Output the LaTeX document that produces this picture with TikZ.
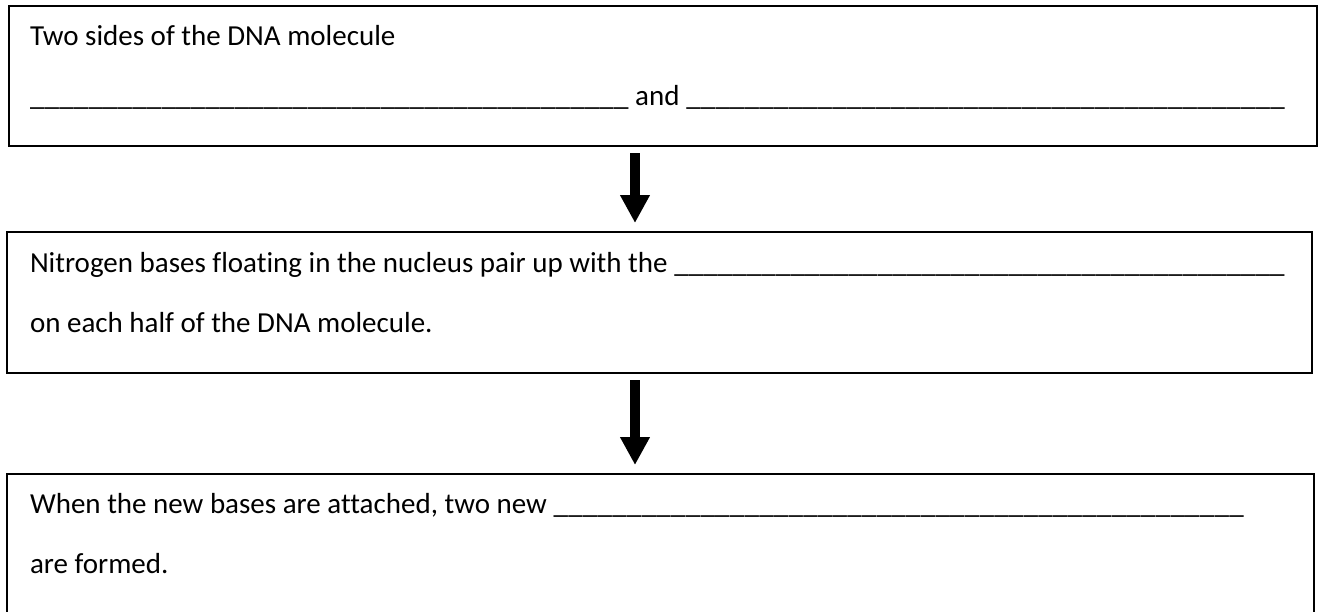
\documentclass[tikz,border=0pt]{standalone}
\usepackage{fontspec}
\setmainfont[Ligatures=NoCommon]{Carlito}
\usetikzlibrary{arrows.meta,calc}
\newcommand\myblank{\xleaders\hbox{\_}\hfill}
\begin{document}
\begin{tikzpicture}[x=1pt,y=-1pt,
  box/.style={draw=black,line width=2pt,rectangle,inner sep=0pt,outer sep=0pt,anchor=north west},
  txt/.style={anchor=base west,inner sep=0pt,outer sep=0pt,font=\fontsize{29}{35}\selectfont},
  blockarrow/.style={line width=10pt,line cap=butt,-{Triangle[width=28pt,length=28pt]},shorten <=7pt,shorten >=9pt}]
\clip (0,0) rectangle (1320,611);
\fill[white] (0,0) rectangle (1320,611);
\node[box,minimum width=1308pt,minimum height=140pt] (b1) at (9,6) {};
\node[box,minimum width=1305pt,minimum height=141pt] (b2) at (7,232) {};
\node[box,minimum width=1307pt,minimum height=200pt] (b3) at (7,474) {};
\node[txt] (t11) at (30,45) {Two sides of the DNA molecule};
\node[txt] (t12) at (30,105) {\hbox to 1255pt{\myblank\ and \myblank}};
\node[txt] (t21) at (30,272) {\hbox to 1255pt{Nitrogen bases floating in the nucleus pair up with the \myblank}};
\node[txt] (t22) at (30,332) {on each half of the DNA molecule.};
\node[txt] (t31) at (30,513) {\hbox to 1214pt{When the new bases are attached, two new \myblank}};
\node[txt] (t32) at (30,573) {are formed.};
\coordinate (ax) at (635,0);
\draw[blockarrow] (b1.south -| ax) -- (b2.north -| ax);
\draw[blockarrow] (b2.south -| ax) -- (b3.north -| ax);
\end{tikzpicture}
\end{document}
